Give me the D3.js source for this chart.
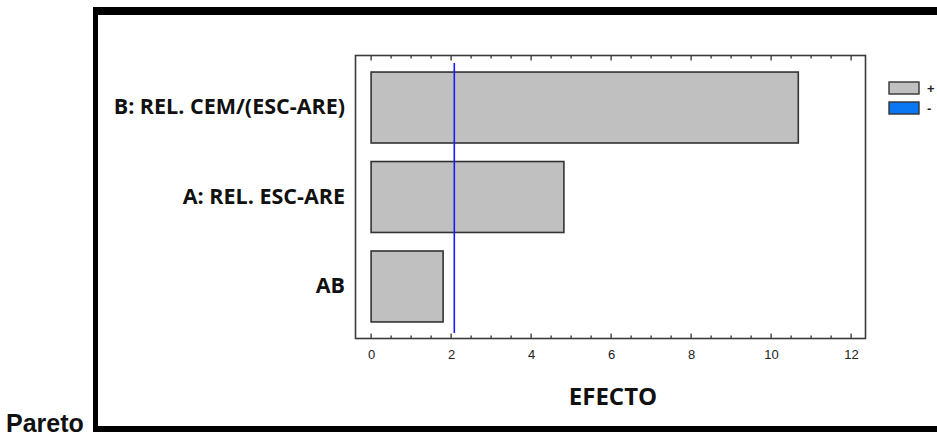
<!DOCTYPE html>
<html>
<head>
<meta charset="utf-8">
<script src="https://cdn.jsdelivr.net/npm/d3@7"></script>
<style>
  html, body { margin: 0; padding: 0; background: #fff; }
  svg { display: block; }
</style>
</head>
<body>
<svg id="chart" width="937" height="439"></svg>
<script>
// Standardized effects (Pareto chart)
const factors = ["B: REL. CEM/(ESC-ARE)", "A: REL. ESC-ARE", "AB"];
const effects = [10.68, 4.82, 1.80];
const signs = ["+", "+", "+"];
const criticalValue = 2.08;
const xTicks = [0, 2, 4, 6, 8, 10, 12];
const legendLabels = ["+", "-"];
const legendColors = ["#c0c0c0", "#0a78f2"];

const svg = d3.select("#chart");

// Outer heavy frame
const frame = svg.append("g").attr("fill", "#000");
frame.append("rect").attr("x", 93).attr("y", 7).attr("width", 860).attr("height", 8);
frame.append("rect").attr("x", 93).attr("y", 7).attr("width", 5).attr("height", 425);
frame.append("rect").attr("x", 93).attr("y", 426).attr("width", 860).attr("height", 6);

svg.append("text")
  .attr("x", 6).attr("y", 432)
  .attr("font-family", "Liberation Sans, Arial, sans-serif")
  .attr("font-weight", "bold").attr("font-size", 25)
  .attr("fill", "#111")
  .text("Pareto");

// Plot area
const plot = { left: 355.5, right: 865.5, top: 55.5, bottom: 338.5 };

const x = d3.scaleLinear()
  .domain([-0.39, 12.36])
  .range([plot.left, plot.right]);

const y = d3.scaleBand()
  .domain(factors)
  .range([plot.top, plot.bottom])
  .paddingInner(0.207)
  .paddingOuter(0.185);

// Bars
svg.append("g").selectAll("rect")
  .data(factors)
  .join("rect")
  .attr("x", x(0))
  .attr("y", d => y(d))
  .attr("width", (d, i) => x(effects[i]) - x(0))
  .attr("height", y.bandwidth())
  .attr("fill", (d, i) => legendColors[legendLabels.indexOf(signs[i])])
  .attr("stroke", "#333")
  .attr("stroke-width", 1.6);

// Critical value line
svg.append("line")
  .attr("x1", x(criticalValue)).attr("x2", x(criticalValue))
  .attr("y1", 63).attr("y2", 333)
  .attr("stroke", "#1a1aff")
  .attr("stroke-width", 1.6);

// Minor/major ticks along bottom and top
const minorTicks = d3.range(0, 12.01, 0.5);
const tickG = svg.append("g").attr("stroke", "#222").attr("stroke-width", 1.2);
minorTicks.forEach(v => {
  const major = Math.abs(v % 2) < 1e-9;
  const len = major ? 5 : 3;
  tickG.append("line")
    .attr("x1", x(v)).attr("x2", x(v))
    .attr("y1", plot.bottom).attr("y2", plot.bottom - len);
  tickG.append("line")
    .attr("x1", x(v)).attr("x2", x(v))
    .attr("y1", plot.top).attr("y2", plot.top + len);
});

// Plot frame
svg.append("rect")
  .attr("x", plot.left).attr("y", plot.top)
  .attr("width", plot.right - plot.left)
  .attr("height", plot.bottom - plot.top)
  .attr("fill", "none")
  .attr("stroke", "#3a3a3a")
  .attr("stroke-width", 1.6);

// X axis labels
const xAxis = d3.axisBottom(x).tickValues(xTicks).tickSize(0).tickPadding(11);
const xg = svg.append("g")
  .attr("transform", `translate(0,${plot.bottom})`)
  .call(xAxis);
xg.select(".domain").remove();
xg.selectAll("text")
  .attr("font-family", "Liberation Sans, Arial, sans-serif")
  .attr("font-size", 13)
  .attr("fill", "#222");

// Y axis labels
const yAxis = d3.axisLeft(y).tickSize(0).tickPadding(plot.left - 345);
const yg = svg.append("g")
  .attr("transform", `translate(${plot.left},0)`)
  .call(yAxis);
yg.select(".domain").remove();
yg.selectAll("text")
  .attr("font-family", "Open Sans, sans-serif")
  .attr("font-weight", "bold")
  .attr("font-size", 21.5)
  .attr("fill", "#111");

// X axis title
svg.append("text")
  .attr("x", 613).attr("y", 405)
  .attr("text-anchor", "middle")
  .attr("font-family", "Open Sans, sans-serif")
  .attr("font-weight", "bold")
  .attr("font-size", 24)
  .attr("fill", "#111")
  .text("EFECTO");

// Legend
const legend = svg.append("g");
legendLabels.forEach((lab, i) => {
  legend.append("rect")
    .attr("x", 889).attr("y", 82 + i * 20)
    .attr("width", 30).attr("height", 12)
    .attr("fill", legendColors[i])
    .attr("stroke", "#333").attr("stroke-width", 1.4);
  legend.append("text")
    .attr("x", 927).attr("y", 93 + i * 20)
    .attr("font-family", "Liberation Sans, Arial, sans-serif")
    .attr("font-weight", "bold")
    .attr("font-size", 13)
    .attr("fill", "#222")
    .text(lab);
});
</script>
</body>
</html>
